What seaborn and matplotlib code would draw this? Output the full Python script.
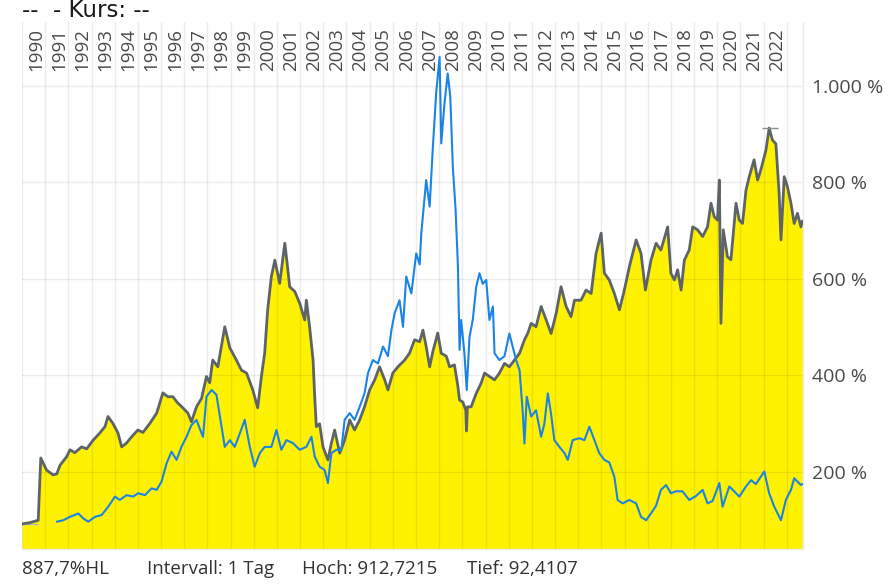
import matplotlib
matplotlib.use("Agg")
import matplotlib.pyplot as plt
import matplotlib.transforms as mtransforms
import seaborn as sns
import pandas as pd

# ---------------- data ----------------
perf_years = [1990.00, 1990.34, 1990.70, 1990.81, 1991.06, 1991.34, 1991.50, 1991.64, 1991.93,
              1992.07, 1992.28, 1992.57, 1992.79, 1993.07, 1993.36, 1993.58, 1993.71, 1993.92,
              1994.14, 1994.30, 1994.51, 1994.73, 1995.00, 1995.22, 1995.52, 1995.81, 1996.08,
              1996.29, 1996.51, 1996.72, 1996.94, 1997.16, 1997.31, 1997.53, 1997.75, 1997.96,
              1998.10, 1998.23, 1998.45, 1998.75, 1998.97, 1999.25, 1999.47, 1999.69, 1999.96,
              2000.17, 2000.33, 2000.47, 2000.60, 2000.76, 2000.91, 2001.12, 2001.34, 2001.44,
              2001.55, 2001.77, 2001.98, 2002.20, 2002.27, 2002.41, 2002.56, 2002.63, 2002.70,
              2002.84, 2002.99, 2003.20, 2003.35, 2003.49, 2003.71, 2003.92, 2004.14, 2004.35,
              2004.57, 2004.78, 2005.00, 2005.22, 2005.43, 2005.65, 2005.79, 2006.00, 2006.22,
              2006.51, 2006.72, 2006.94, 2007.16, 2007.30, 2007.44, 2007.59, 2007.73, 2007.94,
              2008.09, 2008.31, 2008.45, 2008.66, 2008.81, 2008.88, 2009.02, 2009.15, 2009.18,
              2009.22, 2009.38, 2009.60, 2009.81, 2009.96, 2010.17, 2010.39, 2010.60, 2010.82,
              2011.03, 2011.25, 2011.47, 2011.68, 2011.82, 2011.97, 2012.18, 2012.40, 2012.62,
              2012.83, 2013.05, 2013.26, 2013.48, 2013.69, 2013.84, 2014.12, 2014.34, 2014.56,
              2014.77, 2014.99, 2015.13, 2015.34, 2015.56, 2015.78, 2015.99, 2016.21, 2016.50,
              2016.71, 2016.90, 2017.14, 2017.36, 2017.57, 2017.86, 2018.00, 2018.15, 2018.29,
              2018.44, 2018.58, 2018.79, 2018.94, 2019.15, 2019.37, 2019.58, 2019.73, 2019.87,
              2020.01, 2020.09, 2020.16, 2020.26, 2020.44, 2020.59, 2020.81, 2020.95, 2021.09,
              2021.24, 2021.38, 2021.59, 2021.74, 2021.88, 2022.10, 2022.24, 2022.38, 2022.53,
              2022.67, 2022.75, 2022.89, 2023.03, 2023.18, 2023.32, 2023.46, 2023.61, 2023.67]
perf_values = [92.4, 95, 100, 229, 204, 194, 196, 214, 232,
               246, 240, 252, 248, 266, 281, 294, 315, 301,
               281, 252, 260, 273, 287, 282, 301, 322, 364,
               356, 356, 343, 333, 322, 304, 335, 353, 398,
               385, 432, 418, 501, 457, 432, 411, 405, 370,
               333, 398, 446, 536, 605, 639, 591, 674, 633,
               584, 574, 550, 515, 556, 501, 432, 356, 294,
               300, 252, 225, 260, 287, 239, 266, 308, 287,
               308, 335, 370, 391, 418, 391, 370, 405, 418,
               432, 446, 474, 470, 494, 460, 418, 450, 488,
               446, 440, 418, 422, 377, 349, 345, 328, 285,
               335, 335, 363, 384, 405, 398, 391, 405, 425,
               418, 432, 446, 474, 487, 508, 501, 543, 515,
               487, 529, 584, 543, 522, 556, 556, 577, 570,
               653, 695, 612, 598, 570, 536, 577, 626, 681,
               653, 577, 639, 674, 660, 708, 612, 598, 619,
               577, 639, 660, 708, 702, 688, 708, 757, 729,
               722, 805, 508, 702, 646, 640, 757, 722, 715,
               784, 812, 847, 805, 826, 867, 912.7, 888, 880,
               778, 681, 812, 791, 757, 715, 736, 708, 720]

bench_years = [1991.50, 1991.78, 1992.07, 1992.43, 1992.64, 1992.86, 1993.15, 1993.44, 1993.72,
               1994.01, 1994.22, 1994.51, 1994.80, 1995.01, 1995.30, 1995.59, 1995.81, 1996.02,
               1996.24, 1996.45, 1996.67, 1996.88, 1997.10, 1997.31, 1997.53, 1997.67, 1997.81,
               1997.96, 1998.18, 1998.39, 1998.61, 1998.75, 1998.97, 1999.18, 1999.40, 1999.61,
               1999.83, 2000.04, 2000.26, 2000.47, 2000.76, 2000.98, 2001.19, 2001.41, 2001.69,
               2001.98, 2002.27, 2002.49, 2002.63, 2002.84, 2003.06, 2003.20, 2003.35, 2003.56,
               2003.78, 2003.92, 2004.14, 2004.35, 2004.57, 2004.78, 2004.93, 2005.14, 2005.36,
               2005.58, 2005.79, 2005.94, 2006.08, 2006.29, 2006.44, 2006.58, 2006.80, 2007.01,
               2007.16, 2007.23, 2007.44, 2007.59, 2007.73, 2007.87, 2008.02, 2008.09, 2008.23,
               2008.37, 2008.48, 2008.59, 2008.71, 2008.81, 2008.88, 2008.95, 2009.09, 2009.19,
               2009.31, 2009.45, 2009.60, 2009.74, 2009.88, 2010.03, 2010.17, 2010.32, 2010.39,
               2010.60, 2010.82, 2011.03, 2011.17, 2011.32, 2011.47, 2011.61, 2011.68, 2011.78,
               2011.97, 2012.18, 2012.40, 2012.54, 2012.69, 2012.83, 2012.97, 2013.19, 2013.41,
               2013.55, 2013.76, 2014.05, 2014.27, 2014.48, 2014.70, 2014.91, 2015.13, 2015.34,
               2015.56, 2015.70, 2015.92, 2016.21, 2016.50, 2016.71, 2016.93, 2017.14, 2017.36,
               2017.57, 2017.79, 2018.00, 2018.22, 2018.50, 2018.79, 2019.08, 2019.37, 2019.58,
               2019.80, 2020.09, 2020.23, 2020.52, 2020.73, 2020.95, 2021.24, 2021.46, 2021.67,
               2021.88, 2022.03, 2022.24, 2022.46, 2022.75, 2022.96, 2023.18, 2023.32, 2023.46,
               2023.61, 2023.67]
bench_values = [97, 100, 107, 114, 104, 97, 107, 111, 128,
                149, 142, 152, 149, 156, 152, 166, 163, 180,
                218, 242, 225, 252, 273, 297, 308, 290, 273,
                356, 370, 360, 294, 252, 266, 252, 280, 308,
                252, 211, 239, 252, 252, 287, 246, 266, 260,
                246, 252, 273, 232, 211, 204, 177, 239, 246,
                246, 308, 322, 308, 335, 363, 405, 432, 425,
                460, 440, 494, 529, 556, 501, 605, 570, 653,
                630, 695, 805, 750, 874, 985, 1060, 881, 964,
                1026, 978, 833, 743, 626, 453, 515, 446, 370,
                480, 515, 584, 612, 590, 598, 515, 543, 446,
                432, 440, 487, 460, 432, 411, 322, 259, 356,
                315, 328, 273, 300, 363, 320, 266, 252, 239,
                225, 266, 270, 266, 294, 266, 239, 225, 220,
                190, 142, 135, 142, 135, 107, 100, 114, 130,
                163, 173, 156, 160, 160, 142, 150, 163, 135,
                140, 177, 128, 170, 160, 149, 170, 183, 175,
                190, 201, 156, 128, 100, 142, 163, 187, 180,
                173, 175]

year_labels = [str(y) for y in range(1990, 2023)]
y_ticks = [200, 400, 600, 800, 1000]
y_tick_labels = ["200 %", "400 %", "600 %", "800 %", "1.000 %"]
footer_texts = ["887,7%HL", "Intervall: 1 Tag", "Hoch: 912,7215", "Tief: 92,4107"]
title_text = "--  - Kurs: --"
high_value = 912.7215
low_value = 92.4107

# ---------------- styling ----------------
sns.set_theme(style="white")
plt.rcParams["font.family"] = ["Open Sans", "DejaVu Sans"]

W, H = 888, 585
fig = plt.figure(figsize=(W / 100, H / 100), dpi=100)
left_px, right_px, top_px, bottom_px = 22, 803, 22, 549
ax = fig.add_axes([left_px / W, (H - bottom_px) / H,
                   (right_px - left_px) / W, (bottom_px - top_px) / H])

YMIN, YMAX = 40.4, 1132.6
XMIN, XMAX = 1990.0, 2023.7

perf = pd.DataFrame({"year": perf_years, "value": perf_values})
bench = pd.DataFrame({"year": bench_years, "value": bench_values})

ax.fill_between(perf["year"], perf["value"], YMIN, color="#fff200", linewidth=0, zorder=1)
sns.lineplot(data=perf, x="year", y="value", ax=ax, color="#5d6468", linewidth=2.0,
             legend=False, zorder=3)
sns.lineplot(data=bench, x="year", y="value", ax=ax, color="#1a84e6", linewidth=1.5,
             legend=False, zorder=4)

# high / low markers
imax = perf_values.index(max(perf_values))
ax.hlines(high_value, perf_years[imax] - 0.3, perf_years[imax] + 0.4, color="#8a8f92",
          linewidth=1.0, zorder=5)
ax.hlines(low_value, perf_years[0], perf_years[2], color="#b0b4b6", linewidth=1.0, zorder=2.5)

ax.set_xlim(XMIN, XMAX)
ax.set_ylim(YMIN, YMAX)

grid_years = list(range(1990, 2024))
ax.set_xticks(grid_years)
ax.set_xticklabels([])
ax.set_yticks(y_ticks)
ax.set_yticklabels(y_tick_labels)
ax.yaxis.tick_right()
ax.tick_params(axis="y", length=0, pad=6.5, labelsize=14, labelcolor="#4a4a4a")
ax.tick_params(axis="x", length=0)
ax.set_axisbelow("line")
ax.grid(True, color="#000000", alpha=0.075, linewidth=1.0)
ax.set_xlabel("")
ax.set_ylabel("")
for s in ["top", "left"]:
    ax.spines[s].set_visible(False)
for s in ["right", "bottom"]:
    ax.spines[s].set_color("#ebebeb")
    ax.spines[s].set_linewidth(1.0)

# year labels inside the top of the plot, centered in each year
trans = mtransforms.blended_transform_factory(ax.transData, ax.transAxes)
top_frac = (bottom_px - 28) / (bottom_px - top_px)
for lab in year_labels:
    ax.text(int(lab) + 0.6, top_frac, lab, transform=trans, rotation=90, ha="center",
            va="top", fontsize=13.5, color="#4a4a4a", zorder=6)

# title and footer
fig.text(22 / W, 1 - 17 / H, title_text, ha="left", va="baseline", fontsize=16.5,
         color="#1a1a1a", family=["DejaVu Sans"])
for xpx, t in zip([22, 147, 302, 467], footer_texts):
    fig.text(xpx / W, 1 - 574 / H, t, ha="left", va="baseline", fontsize=13.5,
             color="#333333")

fig.savefig("out.png", dpi=100, facecolor="white")
